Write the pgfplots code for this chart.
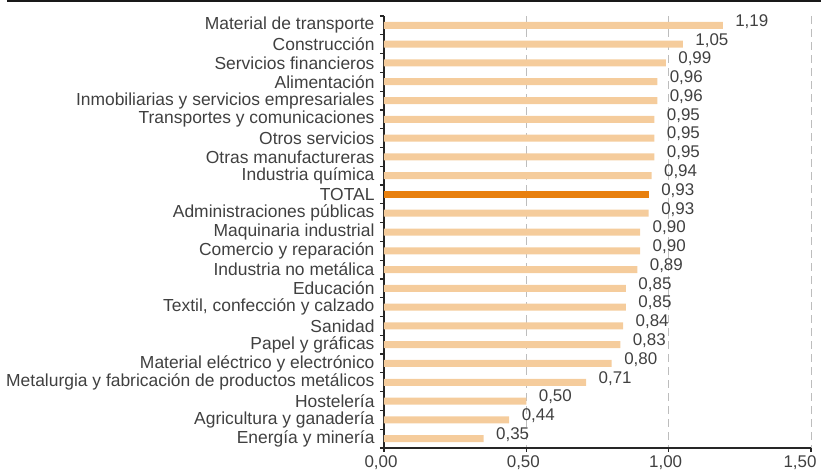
\documentclass[border=0pt]{standalone}
\usepackage{pgfplots}
\pgfplotsset{compat=1.18}
\usepackage{fontspec}
\setmainfont{Liberation Sans}
\usetikzlibrary{calc}
\definecolor{barlight}{HTML}{F5CC9C}
\definecolor{barorange}{HTML}{E8800F}
\definecolor{txt}{HTML}{404040}
\definecolor{gridc}{HTML}{BDBDBD}

\pgfplotstableread{
y val
0 1.19
1 1.05
2 0.99
3 0.96
4 0.96
5 0.95
6 0.95
7 0.95
8 0.94
10 0.93
11 0.90
12 0.90
13 0.89
14 0.85
15 0.85
16 0.84
17 0.83
18 0.80
19 0.71
20 0.50
21 0.44
22 0.35
}\sectores
\pgfplotstableread{
y val
9 0.93
}\total

\tikzset{comanum/.style={/pgf/number format/fixed, /pgf/number format/fixed zerofill,
  /pgf/number format/precision=2, /pgf/number format/use comma,
  /pgf/number format/assume math mode=true}}

\begin{document}
\begin{tikzpicture}
\begin{axis}[
    scale only axis,
    width=427bp, height=432bp,
    xbar, bar width=7bp, bar shift=0pt,
    y dir=reverse,
    xmin=0, xmax=1.5, ymin=-0.5, ymax=22.5,
    axis lines=left, axis line style={draw=black!85, line width=1.2pt, -},
    xtick={0,0.5,1},
    extra x ticks={1.5},
    extra x tick style={xticklabel style={xshift=-8bp}},
    xticklabel style={font=\fontsize{17}{19}\selectfont, text=txt, xshift=-3bp, comanum},
    xtick style={draw=black!85, line width=1.2pt},
    tick align=outside, major tick length=4bp, minor tick length=4bp,
    xmajorgrids, major grid style={gridc, dash pattern=on 8bp off 5bp, line width=1pt},
    ytick={0,...,22},
    yticklabels={Material de transporte, Construcción, Servicios financieros, Alimentación,
      Inmobiliarias y servicios empresariales, Transportes y comunicaciones, Otros servicios,
      Otras manufactureras, Industria química, TOTAL, Administraciones públicas,
      Maquinaria industrial, Comercio y reparación, Industria no metálica, Educación,
      {Textil, confección y calzado}, Sanidad, Papel y gráficas, Material eléctrico y electrónico,
      Metalurgia y fabricación de productos metálicos, Hostelería, Agricultura y ganadería,
      Energía y minería},
    yticklabel style={font=\fontsize{17.5}{19}\selectfont, text=txt, xshift=-2bp},
    major y tick style={draw=none},
    minor ytick={-0.5,0.5,...,22.5},
    minor y tick style={draw=black!85, line width=1.2pt},
    nodes near coords,
    every node near coord/.append style={font=\fontsize{17}{19}\selectfont, text=txt,
      anchor=west, xshift=9bp, yshift=4bp, comanum},
    clip=false,
]
\addplot[draw=none, fill=barlight] table[x=val, y=y] {\sectores};
\addplot[draw=none, fill=barorange] table[x=val, y=y] {\total};
\coordinate (o) at (rel axis cs:0,0);
\end{axis}
\draw[black!90, line width=1.2pt] ($(o)+(-377bp,447bp)$) -- ($(o)+(437bp,447bp)$);
\pgfresetboundingbox
\useasboundingbox ($(o)+(-384bp,-24bp)$) rectangle ($(o)+(437bp,448bp)$);
\end{tikzpicture}
\end{document}
